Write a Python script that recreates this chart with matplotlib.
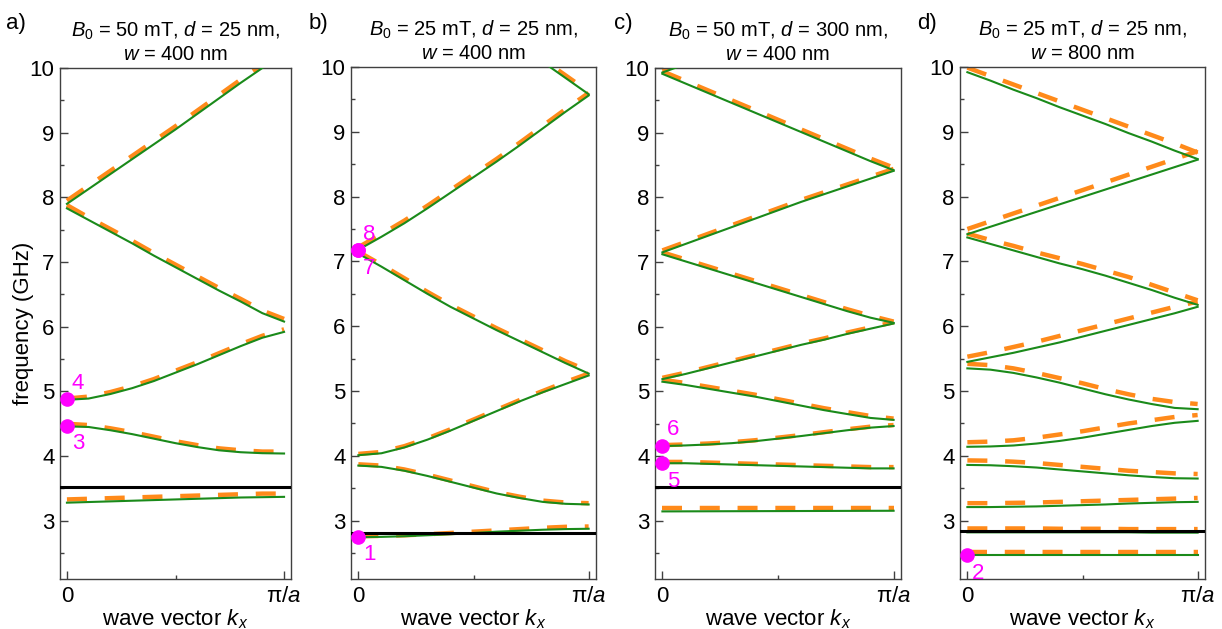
import numpy as np
import matplotlib
matplotlib.use('Agg')
import matplotlib.pyplot as plt
from matplotlib.ticker import FixedLocator

plt.rcParams['font.family'] = 'Liberation Sans'
plt.rcParams['mathtext.fontset'] = 'custom'
plt.rcParams['mathtext.it'] = 'Liberation Sans:italic'
plt.rcParams['mathtext.rm'] = 'Liberation Sans'
plt.rcParams['font.size'] = 16

# wave vector in units of pi/a
kx = [0.0, 0.1, 0.2, 0.3, 0.4, 0.5, 0.6, 0.7, 0.8, 0.9, 1.0]

# ---- panel a) B0 = 50 mT, d = 25 nm, w = 400 nm
a_green = [
    [7.90, 8.13, 8.36, 8.59, 8.82, 9.05, 9.29, 9.53, 9.77, 10.0, 10.24],
    [7.83, 7.65, 7.47, 7.29, 7.10, 6.92, 6.74, 6.56, 6.39, 6.21, 6.08],
    [4.87, 4.89, 4.96, 5.05, 5.16, 5.29, 5.42, 5.56, 5.70, 5.83, 5.92],
    [4.46, 4.45, 4.40, 4.34, 4.27, 4.20, 4.14, 4.09, 4.06, 4.045, 4.04],
    [3.28, 3.29, 3.30, 3.31, 3.32, 3.33, 3.34, 3.35, 3.36, 3.365, 3.37],
]
a_orange = [
    [7.95, 8.18, 8.41, 8.64, 8.87, 9.10, 9.34, 9.58, 9.82, 10.05, 10.29],
    [7.88, 7.69, 7.51, 7.33, 7.14, 6.96, 6.78, 6.60, 6.43, 6.25, 6.12],
    [4.89, 4.92, 4.99, 5.08, 5.19, 5.32, 5.45, 5.59, 5.73, 5.86, 5.96],
    [4.50, 4.48, 4.43, 4.37, 4.30, 4.23, 4.17, 4.12, 4.09, 4.07, 4.07],
    [3.33, 3.34, 3.35, 3.36, 3.37, 3.38, 3.39, 3.40, 3.41, 3.42, 3.42],
]
a_line = 3.53
a_modes = [4.88, 4.47]
a_mode_labels = ['4', '3']

# ---- panel b) B0 = 25 mT, d = 25 nm, w = 400 nm
b_green = [
    [None, None, None, None, None, None, 10.58, 10.33, 10.08, 9.83, 9.58],
    [7.18, 7.38, 7.59, 7.82, 8.06, 8.30, 8.54, 8.79, 9.05, 9.31, 9.56],
    [7.12, 6.92, 6.71, 6.50, 6.30, 6.12, 5.94, 5.77, 5.60, 5.43, 5.27],
    [4.01, 4.04, 4.13, 4.25, 4.39, 4.54, 4.69, 4.84, 4.98, 5.11, 5.24],
    [3.85, 3.83, 3.77, 3.69, 3.60, 3.51, 3.42, 3.35, 3.29, 3.26, 3.25],
    [2.745, 2.75, 2.76, 2.775, 2.79, 2.81, 2.83, 2.845, 2.86, 2.87, 2.875],
]
b_orange = [
    [None, None, None, None, None, None, 10.62, 10.37, 10.12, 9.87, 9.62],
    [7.22, 7.42, 7.63, 7.86, 8.10, 8.34, 8.58, 8.83, 9.09, 9.35, 9.60],
    [7.15, 6.95, 6.74, 6.53, 6.33, 6.15, 5.97, 5.80, 5.63, 5.46, 5.31],
    [4.03, 4.06, 4.15, 4.27, 4.41, 4.56, 4.71, 4.86, 5.00, 5.14, 5.27],
    [3.87, 3.85, 3.79, 3.71, 3.62, 3.53, 3.44, 3.37, 3.31, 3.28, 3.27],
    [2.76, 2.765, 2.775, 2.79, 2.81, 2.83, 2.85, 2.87, 2.89, 2.905, 2.91],
]
b_line = 2.81
b_modes = [7.17, 7.17, 2.75]
b_mode_labels = ['8', '7', '1']

# ---- panel c) B0 = 50 mT, d = 300 nm, w = 400 nm
c_green = [
    [9.93, 10.06, 10.20, None, None, None, None, None, None, None, None],
    [9.91, 9.76, 9.61, 9.46, 9.31, 9.16, 9.01, 8.86, 8.71, 8.56, 8.42],
    [7.15, 7.28, 7.41, 7.54, 7.67, 7.80, 7.93, 8.05, 8.17, 8.29, 8.41],
    [7.12, 7.01, 6.90, 6.79, 6.68, 6.57, 6.46, 6.35, 6.24, 6.14, 6.06],
    [5.19, 5.27, 5.36, 5.45, 5.54, 5.63, 5.72, 5.80, 5.89, 5.97, 6.05],
    [5.15, 5.10, 5.04, 4.98, 4.92, 4.85, 4.78, 4.71, 4.65, 4.59, 4.56],
    [4.155, 4.165, 4.18, 4.20, 4.23, 4.27, 4.31, 4.355, 4.40, 4.44, 4.465],
    [3.89, 3.89, 3.88, 3.87, 3.86, 3.85, 3.84, 3.83, 3.82, 3.81, 3.81],
    [3.145, 3.146, 3.147, 3.148, 3.149, 3.15, 3.151, 3.152, 3.153, 3.154, 3.155],
]
c_orange = [
    [9.96, 10.10, 10.24, None, None, None, None, None, None, None, None],
    [9.95, 9.80, 9.65, 9.50, 9.35, 9.20, 9.05, 8.90, 8.75, 8.60, 8.46],
    [7.18, 7.31, 7.44, 7.57, 7.70, 7.83, 7.96, 8.08, 8.20, 8.32, 8.44],
    [7.15, 7.04, 6.93, 6.82, 6.71, 6.60, 6.49, 6.38, 6.27, 6.17, 6.08],
    [5.21, 5.29, 5.38, 5.47, 5.56, 5.65, 5.74, 5.82, 5.91, 5.99, 6.07],
    [5.18, 5.13, 5.07, 5.01, 4.95, 4.88, 4.81, 4.74, 4.68, 4.62, 4.58],
    [4.17, 4.18, 4.195, 4.215, 4.245, 4.285, 4.325, 4.37, 4.415, 4.455, 4.48],
    [3.91, 3.91, 3.90, 3.89, 3.88, 3.87, 3.86, 3.85, 3.84, 3.83, 3.83],
    [3.19, 3.19, 3.19, 3.19, 3.19, 3.19, 3.19, 3.19, 3.19, 3.19, 3.19],
]
c_line = 3.525
c_modes = [4.16, 3.89]
c_mode_labels = ['6', '5']

# ---- panel d) B0 = 25 mT, d = 25 nm, w = 800 nm
d_green = [
    [9.92, 9.79, 9.65, 9.52, 9.38, 9.25, 9.12, 8.98, 8.85, 8.71, 8.58],
    [7.42, 7.535, 7.65, 7.765, 7.88, 7.995, 8.11, 8.225, 8.34, 8.455, 8.57],
    [7.37, 7.27, 7.17, 7.07, 6.97, 6.88, 6.78, 6.67, 6.56, 6.44, 6.33],
    [5.45, 5.52, 5.59, 5.67, 5.75, 5.84, 5.93, 6.02, 6.11, 6.20, 6.30],
    [5.35, 5.33, 5.28, 5.21, 5.13, 5.04, 4.95, 4.87, 4.80, 4.74, 4.72],
    [4.14, 4.145, 4.16, 4.19, 4.23, 4.28, 4.34, 4.40, 4.46, 4.51, 4.54],
    [3.86, 3.855, 3.84, 3.82, 3.79, 3.76, 3.73, 3.70, 3.675, 3.655, 3.65],
    [3.21, 3.21, 3.215, 3.22, 3.23, 3.24, 3.25, 3.265, 3.275, 3.285, 3.29],
    [2.82, 2.82, 2.82, 2.82, 2.82, 2.82, 2.82, 2.82, 2.815, 2.815, 2.815],
    [2.47, 2.47, 2.47, 2.47, 2.47, 2.47, 2.47, 2.47, 2.47, 2.47, 2.47],
]
d_orange = [
    [9.99, 9.86, 9.73, 9.60, 9.47, 9.34, 9.21, 9.08, 8.95, 8.82, 8.68],
    [7.50, 7.62, 7.74, 7.86, 7.98, 8.10, 8.22, 8.34, 8.46, 8.58, 8.70],
    [7.43, 7.33, 7.24, 7.14, 7.05, 6.96, 6.86, 6.76, 6.64, 6.52, 6.40],
    [5.53, 5.60, 5.68, 5.76, 5.85, 5.94, 6.03, 6.12, 6.21, 6.30, 6.38],
    [5.42, 5.40, 5.35, 5.28, 5.20, 5.12, 5.03, 4.95, 4.88, 4.83, 4.80],
    [4.21, 4.22, 4.24, 4.28, 4.33, 4.38, 4.44, 4.50, 4.55, 4.60, 4.63],
    [3.93, 3.925, 3.91, 3.89, 3.86, 3.83, 3.80, 3.77, 3.75, 3.73, 3.72],
    [3.27, 3.27, 3.275, 3.28, 3.29, 3.30, 3.31, 3.32, 3.33, 3.34, 3.35],
    [2.88, 2.88, 2.88, 2.88, 2.875, 2.875, 2.875, 2.87, 2.87, 2.87, 2.87],
    [2.52, 2.52, 2.52, 2.52, 2.52, 2.52, 2.52, 2.52, 2.52, 2.52, 2.52],
]
d_line = 2.835
d_modes = [2.47]
d_mode_labels = ['2']

titles = [r'$\mathit{B_0}$ = 50 mT, $\mathit{d}$ = 25 nm,' + '\n' + r'$\mathit{w}$ = 400 nm',
          r'$\mathit{B_0}$ = 25 mT, $\mathit{d}$ = 25 nm,' + '\n' + r'$\mathit{w}$ = 400 nm',
          r'$\mathit{B_0}$ = 50 mT, $\mathit{d}$ = 300 nm,' + '\n' + r'$\mathit{w}$ = 400 nm',
          r'$\mathit{B_0}$ = 25 mT, $\mathit{d}$ = 25 nm,' + '\n' + r'$\mathit{w}$ = 800 nm']
letters = ['a)', 'b)', 'c)', 'd)']

GREEN = '#1a8a1a'
ORANGE = '#ff8a1a'
MAGENTA = '#ff00ff'
SPINE = '#404040'

W, H = 1222, 629
fig = plt.figure(figsize=(W / 100, H / 100), dpi=100)

# axes boxes in pixels: left, right, top, bottom
boxes = [(60, 291, 68, 579), (351, 596, 67, 579), (655, 901, 68, 579), (960, 1205, 67, 579)]
letter_x = [6, 309, 614, 917]
# label side for each mode marker: +1 above, -1 below
sides = [[1, -1], [1, -1, -1], [1, -1], [-1]]

panels = [(a_green, a_orange, a_line, a_modes, a_mode_labels),
          (b_green, b_orange, b_line, b_modes, b_mode_labels),
          (c_green, c_orange, c_line, c_modes, c_mode_labels),
          (d_green, d_orange, d_line, d_modes, d_mode_labels)]

for i, (green, orange, hline, modes, mlabels) in enumerate(panels):
    l, r, t, b = boxes[i]
    ax = fig.add_axes([l / W, 1 - b / H, (r - l) / W, (b - t) / H])

    for band in orange:
        ax.plot(kx, np.array(band, dtype=float), color=ORANGE, lw=3.2,
                dashes=(4.5, 4.0), dash_capstyle='butt', zorder=2)
    for band in green:
        ax.plot(kx, np.array(band, dtype=float), color=GREEN, lw=1.5, zorder=3)
    ax.axhline(hline, color='black', lw=2.2, zorder=4)

    for f, lab, s in zip(modes, mlabels, sides[i]):
        ax.plot([0], [f], 'o', color=MAGENTA, ms=9.5, clip_on=False, zorder=5)
        ax.annotate(lab, (0, f), xytext=(11, 16 if s > 0 else -18),
                    textcoords='offset pixels', ha='center', va='center',
                    color=MAGENTA, fontsize=16, zorder=6)

    ax.set_xlim(-0.032, 1.032)
    ax.set_ylim(2.1, 10)
    ax.xaxis.set_major_locator(FixedLocator([0, 1]))
    ax.xaxis.set_minor_locator(FixedLocator([0.5]))
    ax.set_xticklabels(['0', r'π/$\mathit{a}$'])
    ax.yaxis.set_major_locator(FixedLocator(range(3, 11)))
    ax.yaxis.set_minor_locator(FixedLocator(np.arange(2.5, 10, 1.0)))
    ax.tick_params(which='both', direction='in', color=SPINE, width=1.0, labelsize=16)
    ax.tick_params(which='major', length=6)
    ax.tick_params(which='minor', length=3)
    ax.tick_params(axis='x', pad=5)
    ax.tick_params(axis='y', pad=4)
    for sp in ax.spines.values():
        sp.set_color(SPINE)
        sp.set_linewidth(1.0)
    ax.set_xlabel(r'wave vector $\mathit{k_x}$', labelpad=0)
    ax.set_title(titles[i], fontsize=14.5, pad=6, linespacing=1.2)
    fig.text(letter_x[i] / W, 1 - 23 / H, letters[i], ha='left', va='center', fontsize=16)

fig.text(24 / W, 1 - 323 / H, 'frequency (GHz)', rotation=90, ha='center', va='center')

fig.savefig('out.png', dpi=100)
